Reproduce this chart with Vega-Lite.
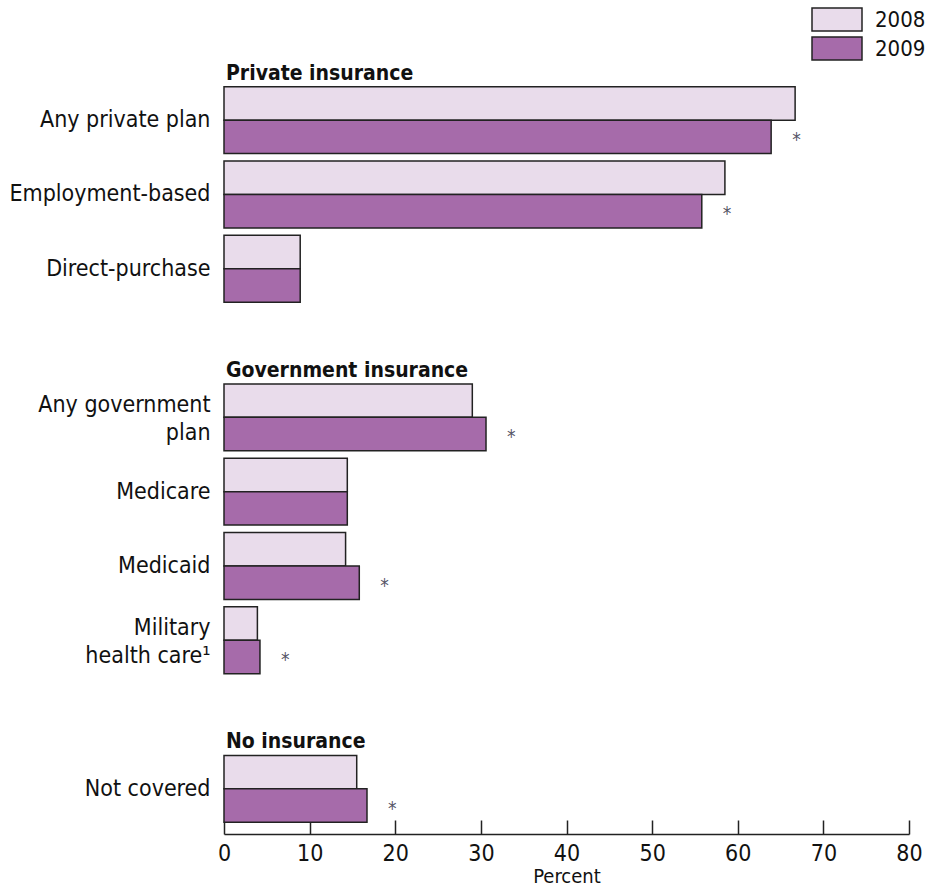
{
  "$schema": "https://vega.github.io/schema/vega-lite/v6.json",
  "autosize": "none",
  "width": 685,
  "height": 743,
  "padding": {"left": 224, "top": 83, "right": 18, "bottom": 63},
  "background": "white",
  "config": {"view": {"stroke": null}, "font": "DejaVu Sans Condensed"},
  "datasets": {
    "bars": [
      {"category": "Any private plan", "year": "2008", "value": 66.7, "star": false},
      {"category": "Any private plan", "year": "2009", "value": 63.9, "star": true},
      {"category": "Employment-based", "year": "2008", "value": 58.5, "star": false},
      {"category": "Employment-based", "year": "2009", "value": 55.8, "star": true},
      {"category": "Direct-purchase", "year": "2008", "value": 8.9, "star": false},
      {"category": "Direct-purchase", "year": "2009", "value": 8.9, "star": false},
      {"category": "Any government|plan", "year": "2008", "value": 29.0, "star": false},
      {"category": "Any government|plan", "year": "2009", "value": 30.6, "star": true},
      {"category": "Medicare", "year": "2008", "value": 14.4, "star": false},
      {"category": "Medicare", "year": "2009", "value": 14.4, "star": false},
      {"category": "Medicaid", "year": "2008", "value": 14.2, "star": false},
      {"category": "Medicaid", "year": "2009", "value": 15.8, "star": true},
      {"category": "Military|health care¹", "year": "2008", "value": 3.9, "star": false},
      {"category": "Military|health care¹", "year": "2009", "value": 4.2, "star": true},
      {"category": "Not covered", "year": "2008", "value": 15.5, "star": false},
      {"category": "Not covered", "year": "2009", "value": 16.7, "star": true}
    ],
    "headers": [
      {"category": "Any private plan", "header": "Private insurance", "x": 0},
      {"category": "Any government|plan", "header": "Government insurance", "x": 0},
      {"category": "Not covered", "header": "No insurance", "x": 0}
    ]
  },
  "layer": [
    {
      "data": {"name": "bars"},
      "mark": {"type": "bar", "stroke": "#222222", "strokeWidth": 1.5},
      "encoding": {
        "y": {
          "field": "category", "type": "nominal",
          "scale": {
            "domain": ["Any private plan", "Employment-based", "Direct-purchase", "_s1", "Any government|plan", "Medicare", "Medicaid", "Military|health care¹", "_s2", "Not covered"],
            "paddingInner": 0.1, "paddingOuter": 0.05
          },
          "axis": {
            "title": null, "domain": false, "ticks": false,
            "labelFontSize": 23, "labelColor": "#111111", "labelPadding": 14,
            "labelLineHeight": 28, "labelLimit": 400,
            "labelOffset": {"condition": {"test": "indexof(datum.value, '|') >= 0", "value": -12}, "value": 0},
            "labelExpr": "indexof(datum.value, '_') == 0 ? '' : split(datum.value, '|')"
          }
        },
        "yOffset": {"field": "year", "type": "nominal", "scale": {"paddingInner": 0, "paddingOuter": 0}},
        "x": {
          "field": "value", "type": "quantitative",
          "scale": {"domain": [0, 80], "nice": false},
          "axis": {
            "values": [0, 10, 20, 30, 40, 50, 60, 70, 80],
            "grid": false, "offset": 8, "labelFlush": false,
            "domainColor": "#222222", "domainWidth": 1.5,
            "tickColor": "#222222", "tickWidth": 1.5, "tickSize": -14,
            "labelFontSize": 23, "labelColor": "#111111", "labelPadding": 22,
            "title": "Percent", "titleFontSize": 20, "titleFontWeight": "normal", "titleColor": "#111111", "titlePadding": 1
          }
        },
        "color": {
          "field": "year", "type": "nominal",
          "scale": {"domain": ["2008", "2009"], "range": ["#E9DCEB", "#A66BAA"]},
          "legend": {
            "title": null, "orient": "none", "legendX": 587, "legendY": -78,
            "padding": 0, "symbolType": "M-1,-0.46H1V0.46H-1Z", "symbolSize": 2500,
            "symbolStrokeColor": "#222222", "symbolStrokeWidth": 1.5, "symbolOpacity": 1,
            "clipHeight": 29, "rowPadding": 0, "labelFontSize": 22, "labelColor": "#111111",
            "labelOffset": 12
          }
        }
      }
    },
    {
      "data": {"name": "bars"},
      "transform": [{"filter": "datum.star"}],
      "mark": {"type": "text", "text": "*", "align": "left", "baseline": "middle", "dx": 21, "dy": 3, "fontSize": 19, "color": "#555566"},
      "encoding": {
        "y": {"field": "category", "type": "nominal", "bandPosition": 0.75},
        "x": {"field": "value", "type": "quantitative"}
      }
    },
    {
      "data": {"name": "headers"},
      "mark": {"type": "text", "align": "left", "baseline": "alphabetic", "dx": 2, "dy": -7, "fontSize": 21, "fontWeight": "bold", "color": "#111111"},
      "encoding": {
        "y": {"field": "category", "type": "nominal", "bandPosition": 0},
        "x": {"field": "x", "type": "quantitative"},
        "text": {"field": "header"}
      }
    }
  ]
}
